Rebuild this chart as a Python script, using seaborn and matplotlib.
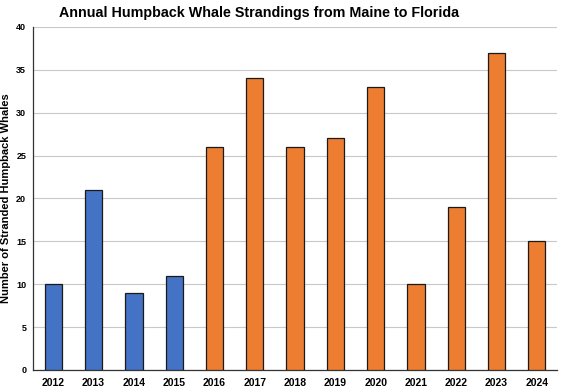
import numpy as np
import pandas as pd
import matplotlib.pyplot as plt
import seaborn as sns
from matplotlib.ticker import FixedLocator

years = [str(y) for y in range(2012, 2025)]
strandings = [10, 21, 9, 11, 26, 34, 26, 27, 33, 10, 19, 37, 15]
period = ["before"] * 4 + ["ume"] * 9
period_colors = {"before": "#4472C4", "ume": "#ED7D31"}

df = pd.DataFrame({"Year": years, "Strandings": strandings, "Period": period})

sns.set_style("white")
plt.rcParams["font.family"] = ["Liberation Sans", "DejaVu Sans"]
plt.rcParams["text.color"] = "black"
plt.rcParams["axes.labelcolor"] = "black"
plt.rcParams["xtick.color"] = "black"
plt.rcParams["ytick.color"] = "black"

fig = plt.figure(figsize=(5.62, 3.91), dpi=100)
ax = fig.add_axes([0.059, 0.054, 0.932, 0.877])

sns.barplot(data=df, x="Year", y="Strandings", hue="Period", palette=period_colors,
            dodge=False, width=0.43, saturation=1, edgecolor="#1a1a1a", linewidth=0.9,
            legend=False, ax=ax, zorder=3)

ax.set_ylim(0, 40)
ax.set_xlim(-0.5, len(years) - 0.5)
ax.set_yticks(range(0, 41, 5))
ax.yaxis.grid(True, color="#c8c8c8", linewidth=0.8, zorder=0)
ax.set_axisbelow(True)

for s in ["top", "right"]:
    ax.spines[s].set_visible(False)
for s in ["left", "bottom"]:
    ax.spines[s].set_color("#333333")
    ax.spines[s].set_linewidth(0.9)

ax.xaxis.set_minor_locator(FixedLocator(np.arange(-0.5, len(years), 1.0)))
ax.tick_params(axis="x", which="major", length=0, labelsize=7.5, pad=6)
ax.tick_params(axis="x", which="minor", length=4, width=0.9, direction="inout", color="#333333")
ax.tick_params(axis="y", which="major", length=4, width=0.9, direction="inout",
               color="#333333", labelsize=6.5, pad=3)
for lab in ax.get_xticklabels() + ax.get_yticklabels():
    lab.set_fontweight("bold")

ax.set_xlabel("")
ax.set_ylabel("Number of Stranded Humpback Whales", fontsize=8, fontweight="bold", labelpad=4)
fig.text(0.461, 0.985, "Annual Humpback Whale Strandings from Maine to Florida",
         fontsize=10.3, fontweight="bold", ha="center", va="top")

fig.savefig("out.png", dpi=100, facecolor="white")
